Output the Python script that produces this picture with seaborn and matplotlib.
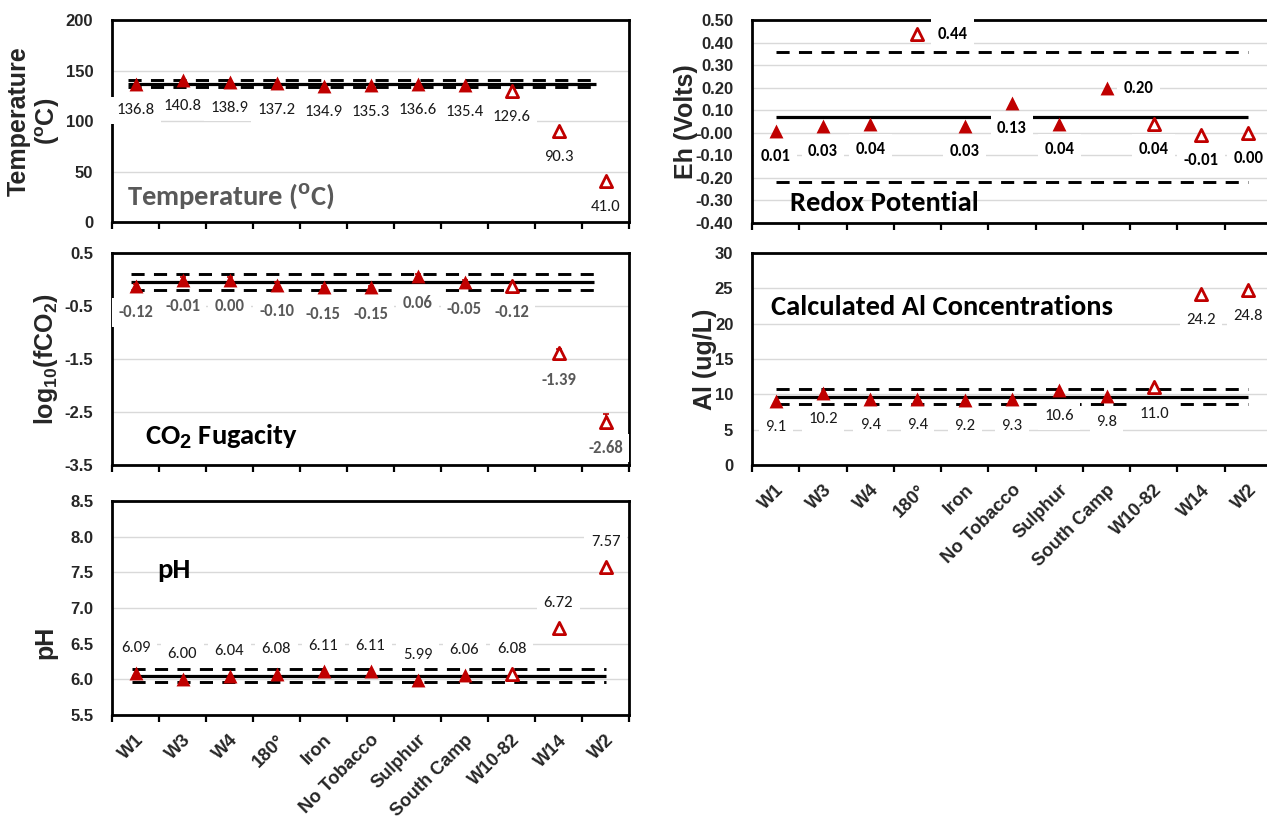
import numpy as np
import pandas as pd
import matplotlib
matplotlib.use("Agg")
import matplotlib.pyplot as plt
import seaborn as sns
from matplotlib import font_manager as fm
from matplotlib.ticker import FixedLocator, FormatStrFormatter

# ---------------- data ----------------
sites = ["W1", "W3", "W4", "180°", "Iron", "No Tobacco", "Sulphur",
         "South Camp", "W10-82", "W14", "W2"]

temp_vals = [136.8, 140.8, 138.9, 137.2, 134.9, 135.3, 136.6, 135.4, 129.6, 90.3, 41.0]
temp_open = [False, False, False, False, False, False, False, False, True, True, True]
temp_ref = [137.0, 141.0, 133.8]          # mean, upper, lower

co2_vals = [-0.12, -0.01, 0.00, -0.10, -0.15, -0.15, 0.06, -0.05, -0.12, -1.39, -2.68]
co2_err = [0.04, 0.05, 0.05, 0.05, 0.03, 0.03, 0.05, 0.05, 0.04, 0.07, 0.15]
co2_open = [False, False, False, False, False, False, False, False, True, True, True]
co2_ref = [-0.055, 0.10, -0.20]

ph_vals = [6.09, 6.00, 6.04, 6.08, 6.11, 6.11, 5.99, 6.06, 6.08, 6.72, 7.57]
ph_open = [False, False, False, False, False, False, False, False, True, True, True]
ph_ref = [6.05, 6.15, 5.96]

eh_vals = [0.01, 0.03, 0.04, 0.44, 0.03, 0.13, 0.04, 0.20, 0.04, -0.01, 0.00]
eh_open = [False, False, False, True, False, False, False, False, True, True, True]
eh_ref = [0.07, 0.36, -0.22]

al_vals = [9.1, 10.2, 9.4, 9.4, 9.2, 9.3, 10.6, 9.8, 11.0, 24.2, 24.8]
al_open = [False, False, False, False, False, False, False, False, True, True, True]
al_ref = [9.65, 10.75, 8.7]

# ---------------- style ----------------
sns.set_style("white")
names = {f.name for f in fm.fontManager.ttflist}


def pick(*cands):
    for c in cands:
        if c in names:
            return c
    return "DejaVu Sans"


ARIAL = pick("Liberation Sans", "Arial", "DejaVu Sans")
CALI = pick("Carlito", "Lato", "Open Sans", "DejaVu Sans")

plt.rcParams["font.family"] = [ARIAL, "DejaVu Sans"]
plt.rcParams["font.weight"] = "bold"
plt.rcParams["mathtext.fontset"] = "custom"
plt.rcParams["mathtext.rm"] = ARIAL
plt.rcParams["mathtext.bf"] = ARIAL + ":bold"

RED = "#C00000"
GRID = "#D9D9D9"
N = len(sites)

fig = plt.figure(figsize=(12.67, 8.23), dpi=100)
LX, LW = 112 / 1267, 517 / 1267
RX, RW = 752 / 1267, 520 / 1267
ax_t = fig.add_axes([LX, 1 - 222 / 823, LW, 202 / 823])
ax_c = fig.add_axes([LX, 1 - 465 / 823, LW, 212 / 823])
ax_p = fig.add_axes([LX, 1 - 715 / 823, LW, 214 / 823])
ax_e = fig.add_axes([RX, 1 - 223 / 823, RW, 203 / 823])
ax_a = fig.add_axes([RX, 1 - 465 / 823, RW, 212 / 823])


def panel(ax, vals, is_open, ref, ylim, ystep, yfmt, lfmt, ldy, lcolor, lweight,
          show_xlabels, line_span=(0, 10), err=None, special=None):
    df = pd.DataFrame({"site": sites, "value": vals, "open": is_open})
    ax.set_axisbelow(True)
    ax.yaxis.grid(True, color=GRID, lw=1.0, zorder=0)
    # reference lines
    x0, x1 = line_span
    ax.hlines(ref[0], x0, x1, color="black", lw=2.3, zorder=2)
    for r in ref[1:]:
        ax.hlines(r, x0, x1, color="black", lw=2.1, linestyles=(0, (4.5, 3.2)), zorder=2)
    if err is not None:
        ax.errorbar(np.arange(N), vals, yerr=err, fmt="none", ecolor=RED,
                    elinewidth=1.2, capsize=2.5, capthick=1.2, zorder=3)
    sns.stripplot(data=df[~df["open"]], x="site", y="value", order=sites, jitter=False,
                  marker="^", size=10, color=RED, linewidth=0, ax=ax, zorder=4)
    sns.stripplot(data=df[df["open"]], x="site", y="value", order=sites, jitter=False,
                  marker="^", size=8.8, color="white", edgecolor=RED, linewidth=2.0,
                  ax=ax, zorder=4)
    # data labels
    for i, v in enumerate(vals):
        dx, dy = 0, ldy
        if special and sites[i] in special:
            dx, dy = special[sites[i]]
        ax.annotate(lfmt.format(v), (i, v), xytext=(dx, dy), textcoords="offset points",
                    ha="center", va="center", fontsize=12, color=lcolor,
                    fontweight=lweight, family=CALI, zorder=6, annotation_clip=False,
                    bbox=dict(boxstyle="square,pad=0.38", fc="white", ec="none"))
    ax.set_ylim(*ylim)
    ax.set_xlim(-0.5, N - 0.5)
    yt = np.arange(ylim[0], ylim[1] + ystep / 2, ystep)
    ax.set_yticks(yt)
    ax.yaxis.set_major_formatter(FormatStrFormatter(yfmt))
    ax.tick_params(axis="y", length=0, pad=13.5, labelsize=12)
    for lab in ax.get_yticklabels():
        lab.set_fontweight("bold")
    ax.set_xticks(range(N))
    if show_xlabels:
        ax.set_xticklabels(sites, fontsize=13.2, fontweight="bold")
        for lab in ax.get_xticklabels():
            lab.set_rotation(45)
            lab.set_ha("right")
            lab.set_va("top")
            lab.set_rotation_mode("anchor")
    else:
        ax.set_xticklabels([])
    ax.tick_params(axis="x", which="major", length=0, pad=12)
    ax.xaxis.set_minor_locator(FixedLocator(np.arange(-0.5, N, 1.0)))
    ax.tick_params(axis="x", which="minor", length=5, width=1.6, direction="out",
                   color="black", bottom=True)
    for s in ax.spines.values():
        s.set_visible(True)
        s.set_color("black")
        s.set_linewidth(2.0)
    ax.set_xlabel("")


panel(ax_t, temp_vals, temp_open, temp_ref, (0, 200), 50, "%d", "{:.1f}", -19,
      "#1a1a1a", "normal", False, line_span=(-0.15, 9.8))
panel(ax_c, co2_vals, co2_open, co2_ref, (-3.5, 0.5), 1.0, "%.1f", "{:.2f}", -19,
      "#595959", "bold", False, line_span=(-0.1, 9.75), err=co2_err)
panel(ax_p, ph_vals, ph_open, ph_ref, (5.5, 8.5), 0.5, "%.1f", "{:.2f}", 18,
      "#1a1a1a", "normal", True, line_span=(-0.07, 10.0))
panel(ax_e, eh_vals, eh_open, eh_ref, (-0.4, 0.5), 0.1, "%.2f", "{:.2f}", -18,
      "black", "bold", False, line_span=(0, 10.0),
      special={"180°": (25, 0), "South Camp": (23, 0)})
panel(ax_a, al_vals, al_open, al_ref, (0, 30), 5, "%d", "{:.1f}", -19,
      "#1a1a1a", "normal", True, line_span=(0, 10.0))

# y labels
ylab_kw = dict(fontsize=18, fontweight="bold", va="center")
ax_t.set_ylabel("Temperature\n($^{\\mathbf{o}}$C)", linespacing=1.1, **ylab_kw)
ax_t.yaxis.set_label_coords(-0.15, 0.5)
ax_c.set_ylabel("log$_{\\mathbf{10}}$(fCO$_{\\mathbf{2}}$)", **ylab_kw)
ax_c.yaxis.set_label_coords(-0.128, 0.5)
ax_p.set_ylabel("pH", **ylab_kw)
ax_p.yaxis.set_label_coords(-0.128, 0.34)
ax_e.set_ylabel("Eh (Volts)", **ylab_kw)
ax_e.yaxis.set_label_coords(-0.127, 0.5)
ax_a.set_ylabel("Al (ug/L)", **ylab_kw)
ax_a.yaxis.set_label_coords(-0.09, 0.5)

# inner titles
tkw = dict(fontsize=20.5, fontweight="bold", family=[CALI, "DejaVu Sans"],
           ha="left", va="center")
ax_t.text(0.029, 0.129, "Temperature ($^{\\mathbf{o}}$C)", transform=ax_t.transAxes,
          color="#595959", **tkw)
ax_c.text(0.064, 0.132, "CO$_{\\mathbf{2}}$ Fugacity", transform=ax_c.transAxes,
          color="black", **tkw)
ax_p.text(0.087, 0.678, "pH", transform=ax_p.transAxes, color="black", **tkw)
ax_e.text(0.074, 0.099, "Redox Potential", transform=ax_e.transAxes, color="black", **tkw)
ax_a.text(0.036, 0.745, "Calculated Al Concentrations", transform=ax_a.transAxes,
          color="black", **tkw)

fig.savefig("out.png", dpi=100)
